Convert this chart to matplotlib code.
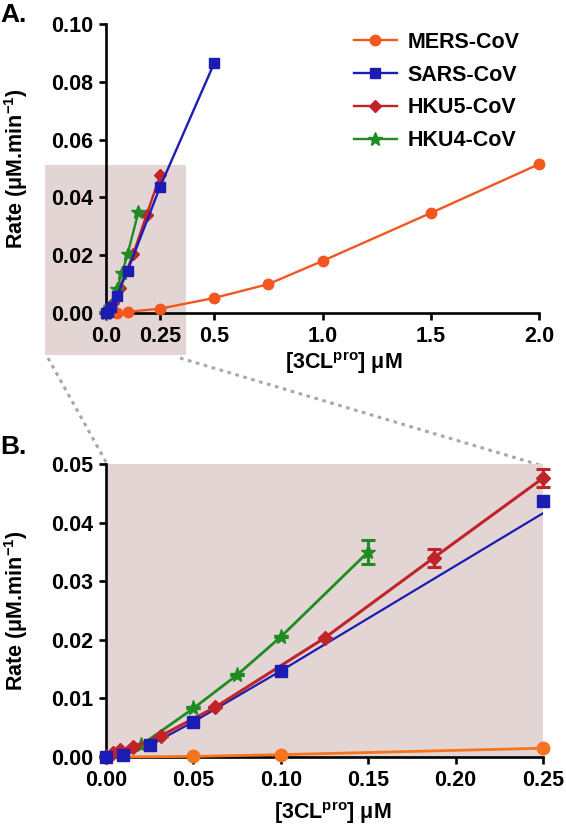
import matplotlib.pyplot as plt
from matplotlib.patches import Rectangle
from matplotlib.lines import Line2D

plt.rcParams['font.family'] = ['Liberation Sans', 'DejaVu Sans']
plt.rcParams['font.weight'] = 'bold'
plt.rcParams['mathtext.fontset'] = 'custom'
plt.rcParams['mathtext.rm'] = 'Liberation Sans:bold'
plt.rcParams['mathtext.bf'] = 'Liberation Sans:bold'
plt.rcParams['mathtext.default'] = 'rm'

# data
mers_x = [0, 0.05, 0.1, 0.25, 0.5, 0.75, 1.0, 1.5, 2.0]
mers_y = [0, 0.0001, 0.0004, 0.0015, 0.0052, 0.0100, 0.0180, 0.0346, 0.0515]

sars_x = [0, 0.01, 0.025, 0.05, 0.1, 0.25, 0.5]
sars_y = [0, 0.0003, 0.0020, 0.0060, 0.0147, 0.0437, 0.0865]
# fitted line shown in the zoomed panel
sars_fit_x = [0, 0.01, 0.025, 0.05, 0.1, 0.25]
sars_fit_y = [0, 0.0003, 0.0020, 0.0060, 0.0147, 0.0416]

hku5_x = [0, 0.0039, 0.0078, 0.0156, 0.03125, 0.0625, 0.125, 0.1875, 0.25]
hku5_y = [0, 0.0007, 0.0012, 0.0017, 0.0036, 0.0085, 0.0203, 0.0340, 0.0476]
hku5_err = [0, 0, 0, 0, 0, 0, 0, 0.0015, 0.0015]

hku4_x = [0, 0.02, 0.05, 0.075, 0.1, 0.15]
hku4_y = [0, 0.0020, 0.0083, 0.0140, 0.0205, 0.0350]
hku4_err = [0, 0, 0, 0, 0, 0.0021]

c_mers = '#f4561f'
c_mers_b = '#f5741e'
c_sars = '#1c1cb4'
c_hku5 = '#c0242a'
c_hku4 = '#1e8c22'
shade = '#e3d5d3'

W, H = 566, 836
fig = plt.figure(figsize=(W / 100, H / 100), dpi=100)


def fx(px):
    return px / W


def fy(py):
    return 1 - py / H


def style(ax):
    for s in ['top', 'right']:
        ax.spines[s].set_visible(False)
    for s in ['left', 'bottom']:
        ax.spines[s].set_linewidth(1.9)
    ax.tick_params(direction='out', length=5, width=1.9, labelsize=15.5, pad=4)
    for lab in ax.get_xticklabels() + ax.get_yticklabels():
        lab.set_fontweight('bold')


# zoom box behind panel A
fig.patches.append(Rectangle((fx(45), fy(355)), fx(186) - fx(45), fy(165) - fy(355),
                             transform=fig.transFigure, facecolor=shade,
                             edgecolor='none', zorder=-5))
# dotted connectors
for (x0, y0), (x1, y1) in [((48, 358), (106, 462)), ((180, 358), (543, 466))]:
    fig.lines.append(Line2D([fx(x0), fx(x1)], [fy(y0), fy(y1)], transform=fig.transFigure,
                            color='#a8a8a8', ls=(0, (1.2, 1.5)), lw=2.2, zorder=-5))

# ---- panel A
axA = fig.add_axes([fx(106), fy(313), fx(539) - fx(106), fy(24) - fy(313)])
axA.set_facecolor('none')
lw = 1.7
axA.plot(mers_x, mers_y, '-o', color=c_mers, lw=lw, ms=7.5, clip_on=False, label='MERS-CoV', zorder=3)
axA.plot(sars_x, sars_y, '-s', color=c_sars, lw=lw, ms=7, clip_on=False, label='SARS-CoV', zorder=4)
axA.plot(hku5_x, hku5_y, '-D', color=c_hku5, lw=lw, ms=6, clip_on=False, label='HKU5-CoV', zorder=3)
axA.plot(hku4_x, hku4_y, '-*', color=c_hku4, lw=lw, ms=10, clip_on=False, label='HKU4-CoV', zorder=3)
axA.set_xlim(0, 2.0)
axA.set_ylim(0, 0.10)
axA.set_xticks([0, 0.25, 0.5, 1.0, 1.5, 2.0])
axA.set_xticklabels(['0.0', '0.25', '0.5', '1.0', '1.5', '2.0'])
axA.set_yticks([0, 0.02, 0.04, 0.06, 0.08, 0.10])
axA.set_yticklabels(['0.00', '0.02', '0.04', '0.06', '0.08', '0.10'])
style(axA)
axA.set_xlabel(r'[3CL$^{pro}$] μM', fontsize=15.5, fontweight='bold')
axA.xaxis.set_label_coords(0.55, -0.125)
axA.set_ylabel(r'Rate (μM.min$^{-1}$)', fontsize=15.5, fontweight='bold')
axA.yaxis.set_label_coords(-0.176, 0.5)
leg = axA.legend(loc='upper right', bbox_to_anchor=(1.0, 1.04), frameon=False,
                 fontsize=15.5, handlelength=2.0, labelspacing=0.55, handletextpad=0.5)
for t in leg.get_texts():
    t.set_fontweight('bold')

# ---- panel B
axB = fig.add_axes([fx(106), fy(757), fx(543) - fx(106), fy(464) - fy(757)])
axB.set_facecolor(shade)
axB.plot(mers_x[:4], mers_y[:4], '-o', color=c_mers_b, lw=2.0, ms=9, clip_on=False, zorder=3)
axB.plot(sars_fit_x, sars_fit_y, '-', color=c_sars, lw=1.6, zorder=3)
axB.plot(sars_x[:6], sars_y[:6], 's', color=c_sars, ms=8, clip_on=False, zorder=5)
axB.errorbar(hku5_x, hku5_y, yerr=hku5_err, fmt='-D', color=c_hku5, lw=2.2, ms=7,
             elinewidth=2.2, capsize=5, capthick=2.2, clip_on=False, zorder=4)
axB.errorbar(hku4_x, hku4_y, yerr=hku4_err, fmt='-*', color=c_hku4, lw=2.0, ms=11,
             elinewidth=2.2, capsize=5, capthick=2.2, clip_on=False, zorder=3)
axB.set_xlim(0, 0.25)
axB.set_ylim(0, 0.05)
axB.set_xticks([0, 0.05, 0.10, 0.15, 0.20, 0.25])
axB.set_xticklabels(['0.00', '0.05', '0.10', '0.15', '0.20', '0.25'])
axB.set_yticks([0, 0.01, 0.02, 0.03, 0.04, 0.05])
axB.set_yticklabels(['0.00', '0.01', '0.02', '0.03', '0.04', '0.05'])
style(axB)
axB.set_xlabel(r'[3CL$^{pro}$] μM', fontsize=15.5, fontweight='bold')
axB.xaxis.set_label_coords(0.52, -0.145)
axB.set_ylabel(r'Rate (μM.min$^{-1}$)', fontsize=15.5, fontweight='bold')
axB.yaxis.set_label_coords(-0.174, 0.5)

fig.text(fx(0), fy(15), 'A.', fontsize=19, fontweight='bold', va='center', ha='left')
fig.text(fx(0), fy(447), 'B.', fontsize=19, fontweight='bold', va='center', ha='left')

fig.savefig('out.png', dpi=100)
